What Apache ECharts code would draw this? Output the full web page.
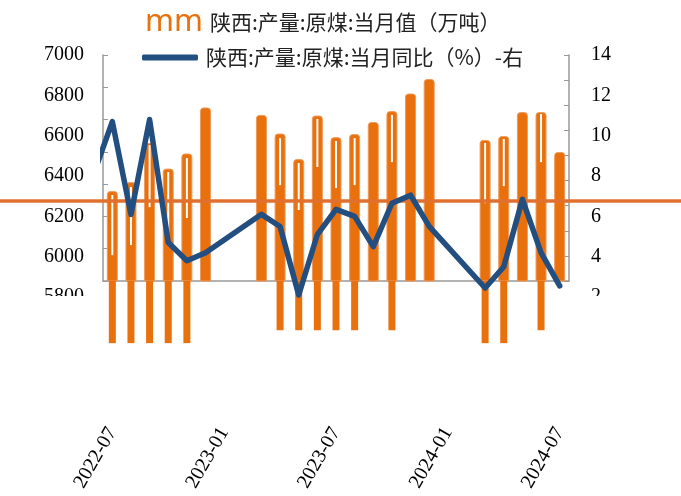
<!DOCTYPE html>
<html><head><meta charset="utf-8">
<script src="https://cdn.jsdelivr.net/npm/echarts@6/dist/echarts.min.js"></script>
<style>html,body{margin:0;padding:0;background:#fff}#c{width:681px;height:496px}</style>
</head><body><div id="c"></div>
<script>
// ---- data ----
const months = ['2022-07','2022-08','2022-09','2022-10','2022-11','2022-12','2023-01','2023-02','2023-03','2023-04','2023-05','2023-06','2023-07','2023-08','2023-09','2023-10','2023-11','2023-12','2024-01','2024-02','2024-03','2024-04','2024-05','2024-06','2024-07'];
// 陕西:产量:原煤:当月值（万吨）
const output = [6326,6370,6564,6437,6512,6740,null,null,6703,6611,6484,6700,6593,6608,6668,6722,6809,6881,null,null,6579,6598,6717,6717,6519];
// white inner streak in some bars (top / bottom, 万吨 scale)
const gapTop    = [6306,6346,6554,6420,6489,null,null,null,null,6588,6465,6683,6574,6588,null,6703,null,null,null,null,6564,6584,null,6708,null];
const gapBottom = [6008,6058,6246,6122,6192,null,null,null,null,6355,6232,6445,6341,6355,null,6469,null,null,null,null,6266,6350,null,6469,null];
// part of the bar that runs below the axis (bottom end, 万吨 scale)
const extBottom = [5572,5572,5572,5572,5572,null,null,null,null,5636,5636,5636,5636,5636,null,5636,null,null,null,null,5572,5572,null,5636,null];
// 陕西:产量:原煤:当月同比（%）-右  (starts one month earlier, clipped at the axis)
const yoyMonths = ['2022-06'].concat(months);
const yoy = [8.1,10.7,6.1,10.8,4.7,3.8,4.2,null,null,6.1,5.5,2.1,5.1,6.35,6.0,4.5,6.65,7.05,5.5,null,null,2.45,3.5,6.85,4.2,2.55];
const leftTicks = {min:5800, max:7000, step:200};
const rightTicks = {min:2, max:14, step:2};
const refLevel = 6275;

const barName = '陕西:产量:原煤:当月值（万吨）';
const lineName = '陕西:产量:原煤:当月同比（%）-右';
const ORANGE = '#E8700D', BLUE = '#224E80', GREY = '#999999';
const barAxisMin = 5880, barAxisMax = 7000, extAxisMin = 5572;
const pxPerUnit = 226 / (barAxisMax - barAxisMin);

const gapLen = gapTop.map((t,i)=> t==null ? null : t - gapBottom[i]);
const extDepth = extBottom.map(v => v==null ? null : barAxisMin - v);
const lineData = [];
yoy.forEach((v,i)=>{ if(v!=null) lineData.push([i-1, v]); });

const serif = 'Liberation Serif';
const chart = echarts.init(document.getElementById('c'), null, {renderer:'canvas'});
const hiddenCat = (g)=>({type:'category', gridIndex:g, data:months, show:false});
chart.setOption({
  animation:false,
  backgroundColor:'#fff',
  grid:[
    {left:103, right:112, top:55, height:226},
    {left:103, right:112, top:55, height:282.4},
    {left:103, right:112, top:55, height:242},
    {left:0, right:0, top:55, height:242},
    {left:103, right:112, top:281, height:(barAxisMin-extAxisMin)*pxPerUnit}
  ],
  legend:[
    {data:[{name:barName, icon:'none'}], left:140, top:7, padding:0, itemWidth:0, itemHeight:10,
     formatter: n => '{m|mm}{t|' + n + '}',
     textStyle:{rich:{
       m:{fontFamily:'Noto Sans', fontSize:31, color:ORANGE, padding:[0,7,0,0]},
       t:{fontFamily:'Noto Sans CJK SC', fontSize:21, color:'#222'}}}},
    {data:[{name:lineName, icon:'roundRect'}], left:142, top:47, padding:0, itemWidth:56, itemHeight:6,
     textStyle:{fontFamily:'Noto Sans CJK SC', fontSize:21, color:'#222', padding:[0,0,0,3]}}
  ],
  xAxis:[
    {type:'category', gridIndex:0, data:months, boundaryGap:true,
     axisLine:{lineStyle:{color:GREY, width:1.5}},
     axisTick:{inside:true, length:5, interval:5, lineStyle:{color:GREY}},
     axisLabel:{interval:5, rotate:60, margin:148, fontFamily:serif, fontSize:20, color:'#000'},
     splitLine:{show:false}},
    hiddenCat(0),
    hiddenCat(4),
    {type:'value', gridIndex:1, min:-0.5, max:months.length-0.5, show:false},
    hiddenCat(2),
    {type:'value', gridIndex:3, min:0, max:1, show:false}
  ],
  yAxis:[
    {type:'value', gridIndex:0, min:barAxisMin, max:barAxisMax, show:false},
    {type:'value', gridIndex:0, position:'left', min:0, max:7, interval:1,
     axisLine:{show:true, lineStyle:{color:GREY, width:1.5}}, axisTick:{show:true, inside:true, length:5, lineStyle:{color:GREY}},
     axisLabel:{show:false}, splitLine:{show:false}},
    {type:'value', gridIndex:0, position:'right', min:0, max:9, interval:1,
     axisLine:{show:true, lineStyle:{color:GREY, width:1.5}}, axisTick:{show:true, inside:true, length:5, lineStyle:{color:GREY}},
     axisLabel:{show:false}, splitLine:{show:false}},
    {type:'value', gridIndex:1, min:0, max:14, show:false},
    {type:'value', gridIndex:2, position:'left', min:leftTicks.min, max:leftTicks.max, interval:leftTicks.step,
     axisLine:{show:false}, axisTick:{show:false}, splitLine:{show:false},
     axisLabel:{margin:19, fontFamily:serif, fontSize:20, color:'#000', formatter: v => String(v)}},
    {type:'value', gridIndex:2, position:'right', min:rightTicks.min, max:rightTicks.max, interval:rightTicks.step,
     axisLine:{show:false}, axisTick:{show:false}, splitLine:{show:false},
     axisLabel:{margin:22, fontFamily:serif, fontSize:20, color:'#000', formatter: v => String(v)}},
    {type:'value', gridIndex:3, min:leftTicks.min, max:leftTicks.max, show:false},
    {type:'value', gridIndex:4, min:0, max:barAxisMin-extAxisMin, inverse:true, show:false}
  ],
  series:[
    {name:barName, type:'bar', xAxisIndex:0, yAxisIndex:0, data:output, barWidth:11, z:2,
     itemStyle:{color:ORANGE, borderColor:'#EE9A5C', borderWidth:1, borderRadius:[3,3,0,0]}},
    {name:'gapBase', type:'bar', xAxisIndex:1, yAxisIndex:0, stack:'gap', data:gapBottom, barWidth:2, z:3,
     itemStyle:{color:'rgba(0,0,0,0)'}, silent:true},
    {name:'gap', type:'bar', xAxisIndex:1, yAxisIndex:0, stack:'gap', data:gapLen, barWidth:2, z:3,
     itemStyle:{color:'#ffffff'}, silent:true},
    {name:'ext', type:'bar', xAxisIndex:2, yAxisIndex:7, data:extDepth, barWidth:7, z:2,
     itemStyle:{color:ORANGE}, silent:true},
    {name:'ref', type:'line', xAxisIndex:5, yAxisIndex:6, data:[], z:4, silent:true,
     markLine:{silent:true, symbol:'none', label:{show:false}, animation:false,
       lineStyle:{color:'#E07030', width:3.5, type:'solid'}, data:[{yAxis:refLevel}]}},
    {name:lineName, type:'line', xAxisIndex:3, yAxisIndex:3, data:lineData, z:6, symbol:'none',
     color:BLUE, lineStyle:{color:BLUE, width:5.5, join:'round', cap:'round'}}
  ],
  graphic:[
    {type:'rect', shape:{x:0, y:296, width:100, height:20}, style:{fill:'#fff'}, z:100},
    {type:'rect', shape:{x:575, y:296, width:106, height:20}, style:{fill:'#fff'}, z:100}
  ]
});
</script></body></html>
